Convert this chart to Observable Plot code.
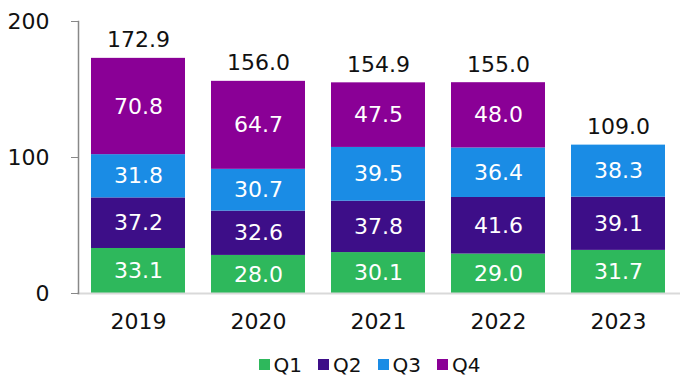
<!DOCTYPE html>
<html>
<head>
<meta charset="utf-8">
<script src="https://cdn.jsdelivr.net/npm/d3@7"></script>
<script src="https://cdn.jsdelivr.net/npm/@observablehq/plot@0.6"></script>
<style>
  body { margin: 0; background: #fff; font-family: "DejaVu Sans", Verdana, sans-serif; }
  #legend { display: flex; justify-content: center; gap: 16px; font-size: 20px; color: #111; height: 39px; align-items: center; padding-left: 50px; }
  #legend span.item { display: flex; align-items: center; }
  #legend span.sw { width: 11px; height: 11px; display: inline-block; margin-right: 4px; }
</style>
</head>
<body>
<div id="chart"></div>
<div id="legend"></div>
<script>
const years = ["2019", "2020", "2021", "2022", "2023"];
const quarters = ["Q1", "Q2", "Q3", "Q4"];
const colors = ["#2EB85C", "#3D0E88", "#1A8CE5", "#8A0096"];
const q1 = [33.1, 28.0, 30.1, 29.0, 31.7];
const q2 = [37.2, 32.6, 37.8, 41.6, 39.1];
const q3 = [31.8, 30.7, 39.5, 36.4, 38.3];
const q4 = [70.8, 64.7, 47.5, 48.0, null];
const totals = [172.9, 156.0, 154.9, 155.0, 109.0];
const yTicks = [0, 100, 200];

const series = [q1, q2, q3, q4];
const rows = [];
years.forEach((y, i) => {
  quarters.forEach((q, j) => {
    const v = series[j][i];
    if (v != null) rows.push({year: y, quarter: q, value: v});
  });
});
const totalRows = years.map((y, i) => {
  const sum = series.reduce((s, arr) => s + (arr[i] || 0), 0);
  return {year: y, top: sum, label: totals[i]};
});

const chart = Plot.plot({
  width: 689,
  height: 345,
  marginLeft: 78,
  marginRight: 11,
  marginTop: 21,
  marginBottom: 52,
  style: {fontFamily: "DejaVu Sans, Verdana, sans-serif", background: "#fff", fontSize: "22px"},
  x: {domain: years, paddingInner: 0.22, paddingOuter: 0.11, label: null},
  y: {domain: [0, 200], label: null},
  color: {domain: quarters, range: colors},
  marks: [
    Plot.barY(rows, Plot.stackY({x: "year", y: "value", fill: "quarter", order: quarters})),
    Plot.text(rows, Plot.stackY({x: "year", y: "value", z: "quarter", order: quarters, text: d => d.value.toFixed(1), fill: "white", fontSize: 22})),
    Plot.text(totalRows, {x: "year", y: "top", text: d => d.label.toFixed(1), dy: -18, fontSize: 22, fill: "#111"}),
    Plot.ruleY([0], {stroke: "#d9d9d9", strokeWidth: 2, insetLeft: -1, insetRight: -2}),
    Plot.axisY({ticks: yTicks, tickSize: 7, tickPadding: 22, fontSize: 22, label: null, stroke: "#888", color: "#111", tickFormat: d => d}),
    Plot.frame({anchor: "left", stroke: "#888", strokeWidth: 1.5}),
    Plot.axisX({tickSize: 0, tickPadding: 20, fontSize: 22, label: null, color: "#111"})
  ]
});
document.getElementById("chart").appendChild(chart);

const lg = document.getElementById("legend");
quarters.forEach((q, i) => {
  const it = document.createElement("span");
  it.className = "item";
  const sw = document.createElement("span");
  sw.className = "sw";
  sw.style.background = colors[i];
  it.appendChild(sw);
  it.appendChild(document.createTextNode(q));
  lg.appendChild(it);
});
</script>
</body>
</html>
